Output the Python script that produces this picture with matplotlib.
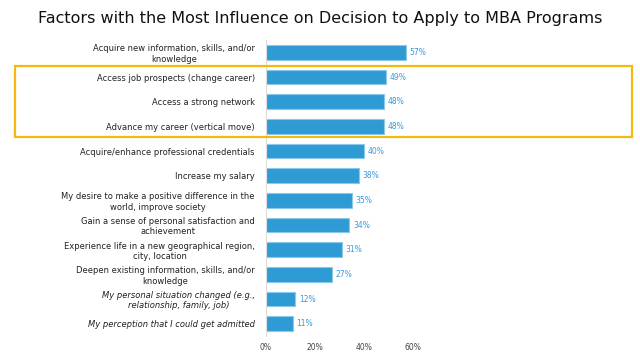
import matplotlib.pyplot as plt
from matplotlib.patches import Rectangle

labels = [
    "Acquire new information, skills, and/or\nknowledge",
    "Access job prospects (change career)",
    "Access a strong network",
    "Advance my career (vertical move)",
    "Acquire/enhance professional credentials",
    "Increase my salary",
    "My desire to make a positive difference in the\nworld, improve society",
    "Gain a sense of personal satisfaction and\nachievement",
    "Experience life in a new geographical region,\ncity, location",
    "Deepen existing information, skills, and/or\nknowledge",
    "My personal situation changed (e.g.,\nrelationship, family, job)",
    "My perception that I could get admitted",
]
values = [57, 49, 48, 48, 40, 38, 35, 34, 31, 27, 12, 11]
italic_rows = [10, 11]
xticks = [0, 20, 40, 60]

fig = plt.figure(figsize=(6.4, 3.59), dpi=100)
ax = fig.add_axes([266 / 640, 23 / 359, 147 / 640, 296 / 359])

ypos = list(range(len(values)))
ax.barh(ypos, values, height=0.6, color="#2f9bd5", edgecolor="#8cc8ea", linewidth=0.8)
ax.set_ylim(11.5, -0.5)
ax.set_xlim(0, 60)

for y, v in zip(ypos, values):
    ax.text(v + 1.5, y, f"{v}%", va="center", ha="left", fontsize=5.5, color="#3a9ad9")

ax.set_yticks(ypos)
ax.set_yticklabels(labels, fontsize=6.0, color="#222222", multialignment="center")
for i, t in enumerate(ax.get_yticklabels()):
    if i in italic_rows:
        t.set_style("italic")
ax.tick_params(axis="y", length=0, pad=8)

ax.set_xticks(xticks)
ax.set_xticklabels([f"{t}%" for t in xticks], fontsize=5.5, color="#444444")
ax.tick_params(axis="x", length=0, pad=5)

for s in ["top", "right", "bottom"]:
    ax.spines[s].set_visible(False)
ax.spines["left"].set_color("#dddddd")
ax.spines["left"].set_linewidth(0.8)

fig.text(0.5 * (40 + 600) / 640, 1 - 18 / 359,
         "Factors with the Most Influence on Decision to Apply to MBA Programs",
         ha="center", va="center", fontsize=11.5, color="#111111")

fig.patches.append(Rectangle((15 / 640, 1 - 137 / 359), 617 / 640, 71 / 359,
                             transform=fig.transFigure, fill=False,
                             edgecolor="#f5b80f", linewidth=1.6))

fig.savefig("out.png", dpi=100, facecolor="white")
